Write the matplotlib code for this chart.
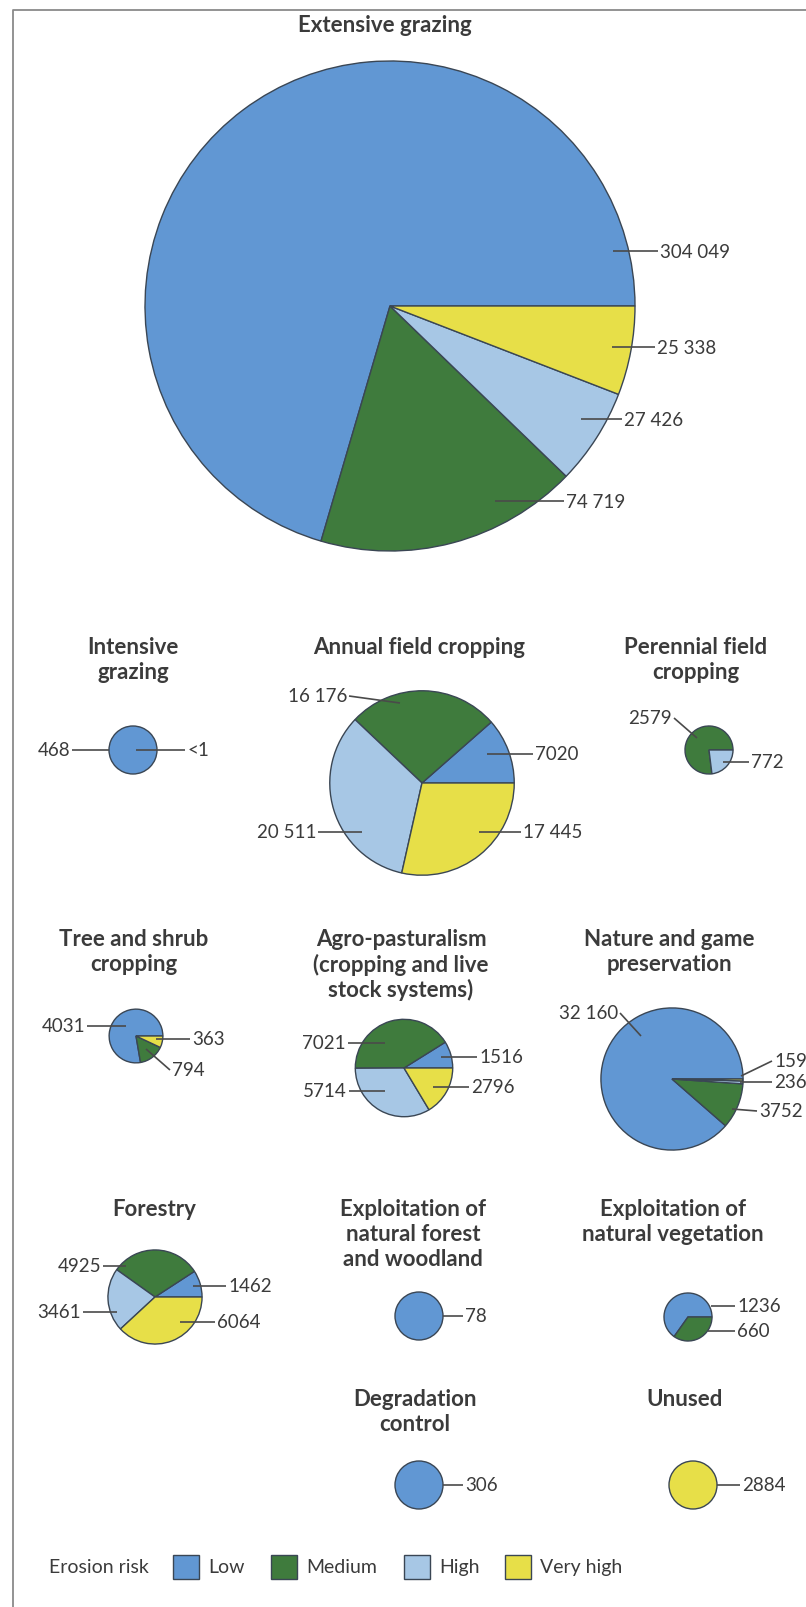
import matplotlib
matplotlib.use('Agg')
import matplotlib.pyplot as plt
from matplotlib.patches import Rectangle

plt.rcParams['font.family'] = ['Lato', 'DejaVu Sans']

W, H = 806, 1608

# erosion risk classes and their colours
categories = ['Low', 'Medium', 'High', 'Very high']
colors = ['#6197d3', '#3f7b3d', '#a7c7e5', '#e7df48']

# area per land use, split by erosion risk (low, medium, high, very high)
extensive_grazing = [304049, 74719, 27426, 25338]
intensive_grazing = [468, 0, 0, 0]
annual_field = [7020, 16176, 20511, 17445]
perennial_field = [0, 2579, 772, 0]
tree_shrub = [4031, 794, 0, 363]
agro_pastoral = [1516, 7021, 5714, 2796]
nature_game = [32160, 3752, 236, 159]
forestry = [1462, 4925, 3461, 6064]
natural_forest = [78, 0, 0, 0]
natural_veg = [1236, 660, 0, 0]
degradation = [306, 0, 0, 0]
unused = [0, 0, 0, 2884]

# layout: title, title position, pie centre, labels
# label = (category index or text, inner offset, outer offset)
layout = [
    (extensive_grazing, 'Extensive grazing', (385, 25), (390, 307),
     [(0, (223, -55), (268, -55)), (3, (222, 41), (265, 41)),
      (2, (191, 113), (232, 113)), (1, (105, 195), (174, 195))]),
    (intensive_grazing, 'Intensive\ngrazing', (133, 648), (133, 751),
     [(0, (-24, 0), (-61, 0)), ('<1', (3, 0), (52, 0))]),
    (annual_field, 'Annual field cropping', (419, 648), (422, 784),
     [(1, (-22, -80), (-73, -87)), (0, (65, -29), (111, -29)),
      (2, (-60, 49), (-104, 49)), (3, (57, 49), (99, 49))]),
    (perennial_field, 'Perennial field\ncropping', (696, 648), (709, 751),
     [(1, (-12, -12), (-35, -32)), (2, (14, 12), (40, 12))]),
    (tree_shrub, 'Tree and shrub\ncropping', (134, 940), (136, 1037),
     [(0, (-10, -10), (-49, -10)), (3, (20, 3), (54, 3)),
      (1, (10, 13), (34, 34))]),
    (agro_pastoral, 'Agro-pasturalism\n(cropping and live\nstock systems)', (401, 940), (404, 1069),
     [(1, (-19, -25), (-56, -25)), (0, (37, -11), (73, -11)),
      (2, (-19, 23), (-55, 23)), (3, (29, 19), (65, 19))]),
    (nature_game, 'Nature and game\npreservation', (669, 940), (672, 1080),
     [(0, (-31, -43), (-52, -66)), (3, (69, -3), (100, -18)),
      (2, (68, 3), (100, 3)), (1, (60, 30), (85, 32))]),
    (forestry, 'Forestry', (154, 1210), (155, 1298),
     [(1, (-29, -31), (-52, -31)), (0, (38, -11), (71, -11)),
      (2, (-38, 15), (-72, 15)), (3, (25, 25), (60, 25))]),
    (natural_forest, 'Exploitation of\nnatural forest\nand woodland', (413, 1210), (419, 1317),
     [(0, (24, 0), (44, 0))]),
    (natural_veg, 'Exploitation of\nnatural vegetation', (673, 1210), (688, 1318),
     [(0, (23, -11), (47, -11)), (1, (20, 14), (47, 14))]),
    (degradation, 'Degradation\ncontrol', (415, 1400), (419, 1486),
     [(0, (24, 0), (44, 0))]),
    (unused, 'Unused', (685, 1400), (693, 1486),
     [(3, (24, 0), (47, 0))]),
]

main_total = sum(extensive_grazing)
main_r = 245
min_r = 24
edge = '#3a4654'
ink = '#3b3b3b'
line_ink = '#4a4a4a'


def fmt(v):
    s = str(v)
    if v >= 10000:
        s = s[:-3] + ' ' + s[-3:]
    return s


fig = plt.figure(figsize=(W / 100, H / 100), dpi=100)
ax = fig.add_axes([0, 0, 1, 1])
ax.set_autoscale_on(False)
ax.set_xlim(0, W)
ax.set_ylim(H, 0)
ax.axis('off')

for vals, title, (tx, ty), (cx, cy), labels in layout:
    r = max(main_r * (sum(vals) / main_total) ** 0.5, min_r)
    v = [x for x in vals if x > 0]
    c = [colors[i] for i, x in enumerate(vals) if x > 0]
    # y axis points down, so clockwise in data = counter-clockwise on screen
    ax.pie(v, colors=c, center=(cx, cy), radius=r, startangle=0,
           counterclock=False, frame=True,
           wedgeprops=dict(edgecolor=edge, linewidth=1.0))

    for i, line in enumerate(title.split('\n')):
        ax.text(tx, ty + i * 25, line, ha='center', va='center',
                fontsize=16, fontweight='bold', color=ink)

    for key, (ix, iy), (ox, oy) in labels:
        text = key if isinstance(key, str) else fmt(vals[key])
        ax.plot([cx + ix, cx + ox], [cy + iy, cy + oy], color=line_ink, lw=1.2,
                solid_capstyle='butt', zorder=4)
        right = ox >= ix
        ax.text(cx + ox + (2 if right else -2), cy + oy, text,
                ha='left' if right else 'right', va='center',
                fontsize=13.5, color=ink, zorder=5)

# legend
leg_y = 1568
ax.text(49, leg_y, 'Erosion risk', ha='left', va='center', fontsize=14, color=ink)
patch_x = [173, 271, 404, 505]
for i, name in enumerate(categories):
    ax.add_patch(Rectangle((patch_x[i], leg_y - 12), 26, 24, facecolor=colors[i],
                           edgecolor=edge, lw=1.0))
    ax.text(patch_x[i] + 35, leg_y, name, ha='left', va='center', fontsize=14, color=ink)

# frame
ax.plot([13, 13, W], [H, 11, 11], color='#8a8a8a', lw=1.3)

ax.set_xlim(0, W)
ax.set_ylim(H, 0)
fig.savefig('out.png', dpi=100)
